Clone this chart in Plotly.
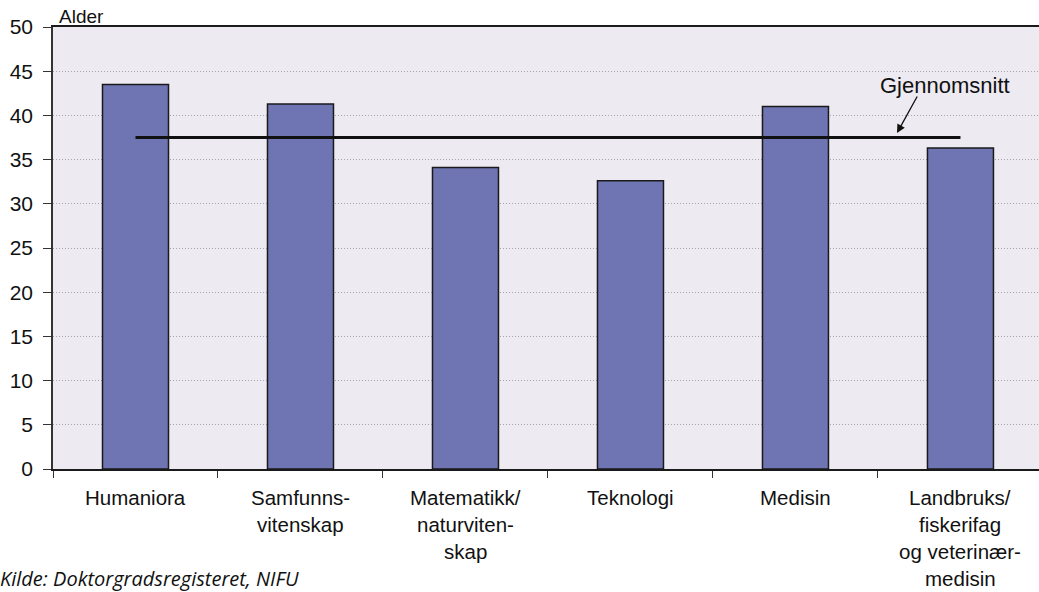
import plotly.graph_objects as go

categories = ["Humaniora", "Samfunns-vitenskap", "Matematikk/naturvitenskap",
              "Teknologi", "Medisin", "Landbruks/fiskerifag og veterinærmedisin"]
label_lines = [
    ["Humaniora"],
    ["Samfunns-", "vitenskap"],
    ["Matematikk/", "naturviten-", "skap"],
    ["Teknologi"],
    ["Medisin"],
    ["Landbruks/", "fiskerifag", "og veterinær-", "medisin"],
]
ages = [43.5, 41.3, 34.1, 32.6, 41.0, 36.3]
average = 37.5
y_ticks = [0, 5, 10, 15, 20, 25, 30, 35, 40, 45, 50]

W, H = 1039, 592
ML, MT, MB = 53, 27, 123
plot_h = H - MT - MB
plot_w = W - ML


def px_x(px):
    return (px - ML) / plot_w


def px_y(py):
    return (H - MB - py) / plot_h


fig = go.Figure()
fig.add_trace(go.Bar(
    x=categories, y=ages, width=0.4,
    marker=dict(color="#6F74B2", line=dict(color="#1a1a1a", width=1.5)),
    hoverinfo="skip",
))
fig.add_trace(go.Scatter(
    x=[categories[0], categories[-1]], y=[average, average],
    mode="lines", line=dict(color="#111111", width=3), hoverinfo="skip",
))

font_family = "Liberation Sans, Arial, sans-serif"

annotations = []
line_gap = 27.0
first_line_px = 497
for cat, lines in zip(categories, label_lines):
    for i, t in enumerate(lines):
        py = first_line_px + i * line_gap
        annotations.append(dict(
            x=cat, xref="x", y=px_y(py), yref="paper",
            text=t, showarrow=False, xanchor="center", yanchor="middle",
            borderpad=0,
            font=dict(family=font_family, size=20.5, color="#111111"),
        ))

annotations.append(dict(
    x=px_x(57), xref="paper", y=px_y(16), yref="paper",
    text="Alder", showarrow=False, xanchor="left", yanchor="middle",
    font=dict(family=font_family, size=19, color="#111111"),
))

# label text
annotations.append(dict(
    x=px_x(945), xref="paper", y=px_y(85), yref="paper",
    text="Gjennomsnitt", showarrow=False, xanchor="center", yanchor="middle",
    font=dict(family=font_family, size=22, color="#111111"),
))
# arrow pointing at the average line
annotations.append(dict(
    x=px_x(897), xref="paper", y=px_y(133), yref="paper",
    text="", showarrow=True, arrowhead=2, arrowsize=1.3,
    arrowwidth=1.3, arrowcolor="#111111",
    ax=21, ay=-38, standoff=0, startstandoff=0,
))

annotations.append(dict(
    x=px_x(-2), xref="paper", y=px_y(578), yref="paper",
    text="<i>Kilde: Doktorgradsregisteret, NIFU</i>", showarrow=False,
    xanchor="left", yanchor="middle",
    font=dict(family="Open Sans, sans-serif", size=20, color="#111111"),
))

fig.update_layout(
    width=W, height=H,
    margin=dict(l=ML, r=0, t=MT, b=MB),
    paper_bgcolor="white", plot_bgcolor="#EDEAF2",
    showlegend=False, bargap=0.6,
    annotations=annotations,
    xaxis=dict(
        type="category", range=[-0.5, 5.476],
        showticklabels=False, tickson="boundaries",
        ticks="outside", ticklen=7, tickcolor="#333333", tickwidth=1,
        showline=True, linecolor="#1a1a1a", linewidth=2, mirror=True,
        showgrid=False, zeroline=False,
    ),
    yaxis=dict(
        range=[0, 50], tickvals=y_ticks,
        ticks="outside", ticklen=8, tickcolor="#333333", tickwidth=1,
        showline=True, linecolor="#333333", linewidth=1.5,
        showgrid=True, gridcolor="#a8a4ad", griddash="1px,2px", gridwidth=1,
        zeroline=False, ticklabelstandoff=6,
        tickfont=dict(family=font_family, size=21, color="#111111"),
    ),
)

fig.write_html(
    "out.html",
    config={"displayModeBar": False},
    post_script="document.body.style.margin='0';"
                "document.documentElement.style.overflow='hidden';",
)
